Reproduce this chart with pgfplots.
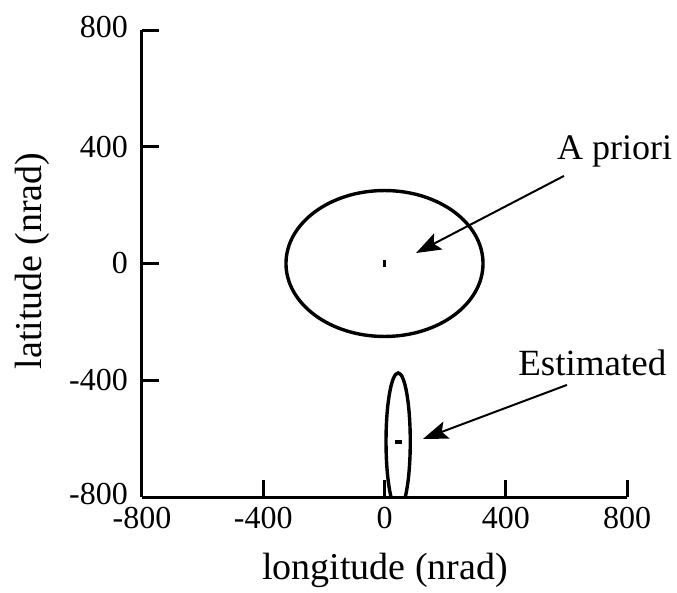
\documentclass[border=0pt]{standalone}
\usepackage{fontspec}
\setmainfont{Liberation Serif}
\usepackage{pgfplots}
\pgfplotsset{compat=1.18}
\usetikzlibrary{arrows.meta}
\begin{document}
\begin{tikzpicture}
\useasboundingbox (-142pt,-95pt) rectangle (535pt,497pt);
\begin{axis}[
  at={(0pt,0pt)}, anchor=south west,
  scale only axis, width=485pt, height=467pt,
  xmin=-800, xmax=800, ymin=-800, ymax=800,
  axis x line*=bottom, axis y line*=left,
  axis line style={line width=3pt, -},
  xtick={-800,-400,0,400,800}, ytick={-800,-400,0,400,800},
  xticklabels={-800,-400,0,400,800},
  yticklabels={{\raisebox{6pt}{-800}},-400,0,400,{\raisebox{6pt}{800}}},
  tick align=inside, major tick length=17pt,
  tick style={line width=3pt, black},
  xticklabel style={anchor=base, inner sep=0pt, yshift=-31pt, font=\fontsize{32}{32}\selectfont},
  yticklabel style={anchor=east, inner sep=0pt, xshift=-14pt, font=\fontsize{32}{32}\selectfont},
  clip=false,
]
\draw[line width=3.4pt] (axis cs:0,0) ellipse [x radius=325, y radius=250];
\begin{scope}
\clip (axis cs:-800,-800) rectangle (axis cs:800,800);
\draw[line width=3.4pt] (axis cs:45,-610) ellipse [x radius=40, y radius=235];
\end{scope}
\addplot[only marks, mark=|, mark size=3.5pt, mark options={line width=2.8pt}] coordinates {(0,0)};
\addplot[only marks, mark=-, mark size=3.5pt, mark options={line width=4pt}] coordinates {(45,-610)};
\draw[line width=2pt, -{Stealth[length=25pt,width=18pt,inset=5pt]}] (axis cs:592,300) -- (axis cs:104,36);
\draw[line width=2pt, -{Stealth[length=25pt,width=18pt,inset=5pt]}] (axis cs:602,-416) -- (axis cs:127,-601);
\node[anchor=base west, inner sep=0pt, font=\fontsize{36}{36}\selectfont] at (axis cs:569,358) {A priori};
\node[anchor=base west, inner sep=0pt, font=\fontsize{37}{37}\selectfont] at (axis cs:441,-385) {Estimated};
\end{axis}
\node[anchor=base, inner sep=0pt, font=\fontsize{38}{38}\selectfont] at (243pt,-82pt) {longitude (nrad)};
\node[rotate=90, anchor=base, inner sep=0pt, font=\fontsize{38}{38}\selectfont] at (-100pt,236pt) {latitude (nrad)};
\end{tikzpicture}
\end{document}
